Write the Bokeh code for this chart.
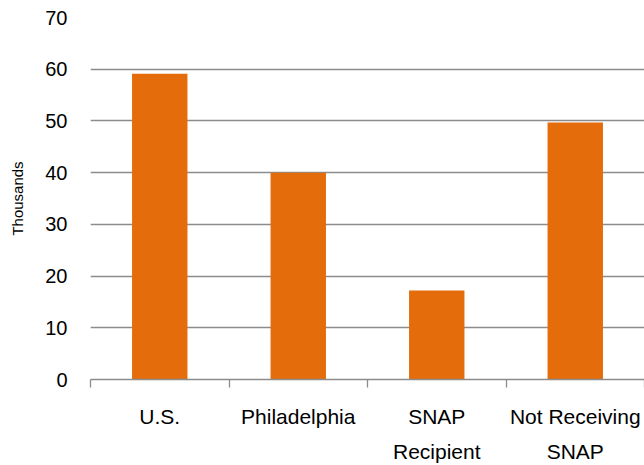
from bokeh.plotting import figure
from bokeh.models import FixedTicker, LinearAxis, Range1d, ColumnDataSource
from bokeh.embed import file_html
from bokeh.resources import INLINE

# Median household income, thousands of dollars
categories = ["U.S.", "Philadelphia", "SNAP Recipient", "Not Receiving SNAP"]
label_line1 = ["U.S.", "Philadelphia", "SNAP", "Not Receiving"]
label_line2 = ["", "", "Recipient", "SNAP"]
values = [59.1, 40.0, 17.2, 49.7]
y_ticks = [0, 10, 20, 30, 40, 50, 60, 70]

FONT = "Liberation Sans"
BAR = "#E46C0A"
GRID = "#8C8C8C"

centers = [i + 0.5 for i in range(len(categories))]
src = ColumnDataSource(dict(x=centers, top=values, name=categories))

p = figure(width=644, height=465, output_backend="svg", toolbar_location=None,
           x_range=Range1d(0, len(categories)), y_range=Range1d(0, 70),
           x_axis_location=None, min_border_left=90, min_border_right=0,
           min_border_top=17, min_border_bottom=10)
p.outline_line_color = None
p.background_fill_color = "white"
p.border_fill_color = "white"

p.vbar(x="x", top="top", width=0.4, source=src, color=BAR, line_color=None)

# y axis: labels only, grid lines every 10
p.yaxis.ticker = FixedTicker(ticks=y_ticks)
p.yaxis.axis_line_color = None
p.yaxis.major_tick_line_color = None
p.yaxis.minor_tick_line_color = None
p.yaxis.major_label_text_font = FONT
p.yaxis.major_label_text_font_size = "20px"
p.yaxis.major_label_text_color = "#000000"
p.yaxis.major_label_standoff = 17
p.yaxis.axis_label = "Thousands"
p.yaxis.axis_label_text_font = FONT
p.yaxis.axis_label_text_font_size = "15px"
p.yaxis.axis_label_text_font_style = "normal"
p.yaxis.axis_label_text_color = "#000000"
p.yaxis.axis_label_standoff = 16
p.ygrid.ticker = FixedTicker(ticks=y_ticks)
p.ygrid.grid_line_color = GRID
p.ygrid.grid_line_width = 1.3
p.xgrid.grid_line_color = None

# x axis: first line of each category label, with boundary ticks
ax1 = LinearAxis(ticker=FixedTicker(ticks=centers, minor_ticks=[0, 1, 2, 3, 4]))
ax1.major_label_overrides = {c: t for c, t in zip(centers, label_line1)}
ax1.axis_line_color = GRID
ax1.axis_line_width = 1.3
ax1.major_tick_line_color = None
ax1.minor_tick_line_color = GRID
ax1.minor_tick_line_width = 1.3
ax1.minor_tick_in = 0
ax1.minor_tick_out = 8
ax1.major_label_text_font = FONT
ax1.major_label_text_font_size = "21px"
ax1.major_label_text_color = "#000000"
ax1.major_label_standoff = 17
p.add_layout(ax1, "below")

# x axis: second line of the category labels
ax2 = LinearAxis(ticker=FixedTicker(ticks=centers))
ax2.major_label_overrides = {c: t for c, t in zip(centers, label_line2)}
ax2.axis_line_color = None
ax2.major_tick_line_color = None
ax2.minor_tick_line_color = None
ax2.major_label_text_font = FONT
ax2.major_label_text_font_size = "21px"
ax2.major_label_text_color = "#000000"
ax2.major_label_standoff = 3
p.add_layout(ax2, "below")

open("out.html", "w").write(file_html(p, INLINE))
